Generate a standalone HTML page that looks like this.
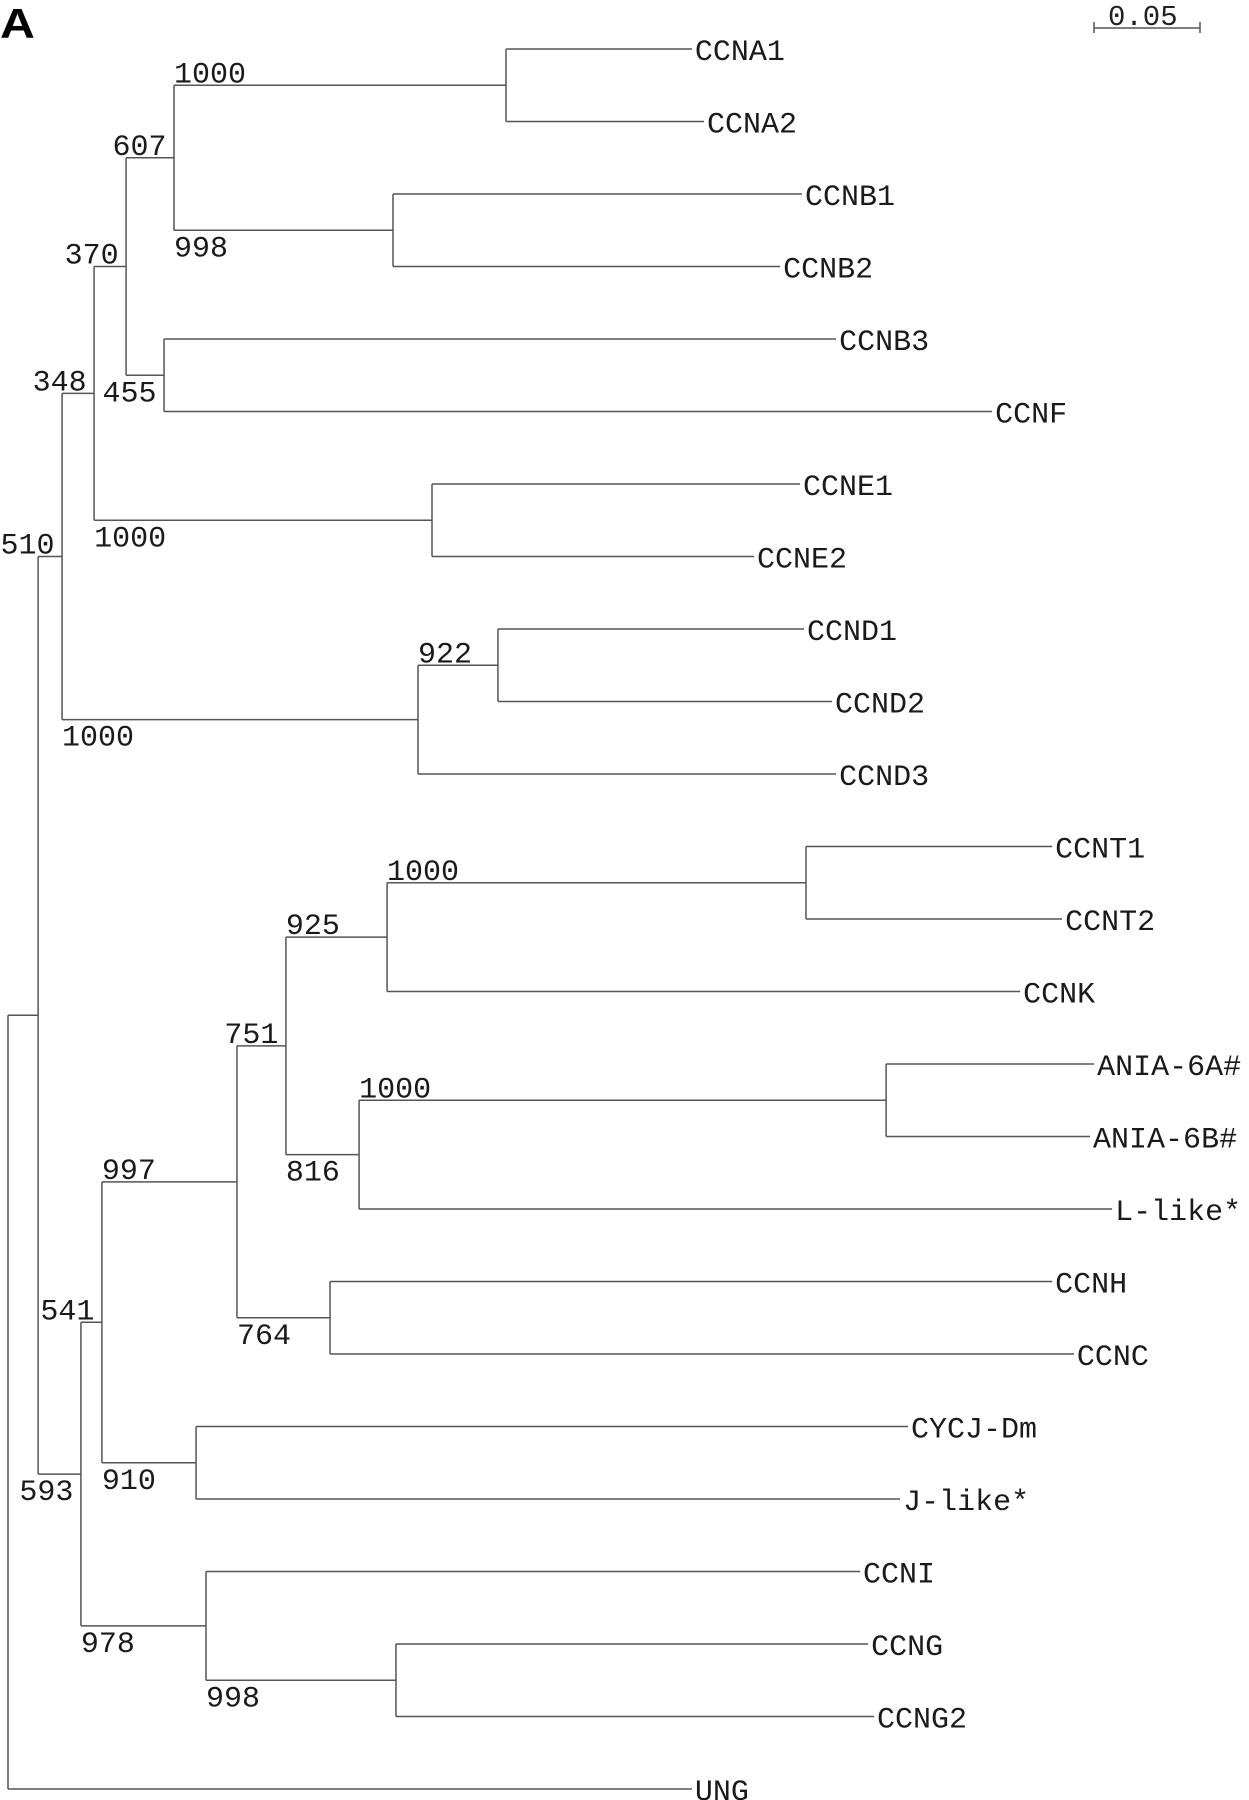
<!DOCTYPE html>
<html><head><meta charset="utf-8"><style>
html,body{margin:0;padding:0;background:#fff;}
svg{display:block;}
</style></head><body>
<svg id="chart" width="1249" height="1800" viewBox="0 0 1249 1800" xmlns="http://www.w3.org/2000/svg">
<text x="0" y="38" font-family="Liberation Sans, sans-serif" font-weight="bold" font-size="42" fill="#000" transform="scale(1.15,1) ">A</text>
<g>
<line x1="1094" y1="28" x2="1200" y2="28" stroke="#555" stroke-width="1.5"/>
<line x1="1094" y1="22" x2="1094" y2="33" stroke="#555" stroke-width="1.5"/>
<line x1="1200" y1="22" x2="1200" y2="33" stroke="#555" stroke-width="1.5"/>
<text x="1108" y="25" font-family="Liberation Mono, monospace" font-size="29" fill="#222">0.05</text>
</g>
<g id="branches"></g>
<g id="labels"></g>
</svg>
<script>
const leafNames = ["CCNA1","CCNA2","CCNB1","CCNB2","CCNB3","CCNF","CCNE1","CCNE2","CCND1","CCND2","CCND3","CCNT1","CCNT2","CCNK","ANIA-6A#","ANIA-6B#","L-like*","CCNH","CCNC","CYCJ-Dm","J-like*","CCNI","CCNG","CCNG2","UNG"];
const leafDist = [0.3226,0.3283,0.3745,0.3642,0.3906,0.4642,0.3736,0.3519,0.3755,0.3887,0.3906,0.4925,0.4972,0.4774,0.5123,0.5104,0.5208,0.4925,0.5028,0.4245,0.4208,0.4019,0.4057,0.4085,0.3226];
const nodeDist = [0.2349,0.1816,0.0783,0.0736,0.0557,0.2,0.0406,0.2311,0.1934,0.0255,0.3764,0.1788,0.4142,0.1656,0.1311,0.1519,0.108,0.0887,0.0443,0.183,0.0934,0.0344,0.0142,0];
const nodeChildren = [[0,1],[2,3],[25,26],[4,5],[27,28],[6,7],[29,30],[8,9],[32,10],[31,33],[11,12],[35,13],[14,15],[37,16],[36,38],[17,18],[39,40],[19,20],[41,42],[22,23],[21,44],[43,45],[34,46],[47,24]];
const nodeBoot = ["1000","998","607","455","370","1000","348","922","1000","510","1000","925","1000","816","751","764","997","910","541","998","978","593","",""];
const nodeBootPos = ["a","b","a","b","a","b","a","a","b","a","a","a","a","b","a","b","a","b","a","b","b","b","",""];

const NS = "http://www.w3.org/2000/svg";
const xScale = d => 8 + d * 2120;
const yLeaf = i => 49 + i * 72.5;
const nLeaf = leafNames.length;
const X = [], Y = [], parent = [];
for (let i = 0; i < nLeaf; i++) { X[i] = xScale(leafDist[i]); Y[i] = yLeaf(i); }
for (let j = 0; j < nodeDist.length; j++) {
  const id = nLeaf + j; const ch = nodeChildren[j];
  X[id] = xScale(nodeDist[j]);
  Y[id] = (Y[ch[0]] + Y[ch[ch.length - 1]]) / 2;
  ch.forEach(c => parent[c] = id);
}
const gB = document.getElementById('branches');
const gL = document.getElementById('labels');
function line(x1, y1, x2, y2, name) {
  const l = document.createElementNS(NS, 'line');
  l.setAttribute('x1', x1); l.setAttribute('y1', y1); l.setAttribute('x2', x2); l.setAttribute('y2', y2);
  l.setAttribute('stroke', '#555'); l.setAttribute('stroke-width', '1.5');
  
  
  gB.appendChild(l);
}
function text(x, y, s, size, name) {
  const t = document.createElementNS(NS, 'text');
  t.setAttribute('x', x); t.setAttribute('y', y);
  t.setAttribute('font-family', 'Liberation Mono, monospace');
  t.setAttribute('font-size', size); t.setAttribute('fill', '#1a1a1a');
  t.textContent = s;
  
  
  gL.appendChild(t);
}
for (let id = 0; id < X.length; id++) {
  if (parent[id] === undefined) continue;
  line(X[parent[id]], Y[id], X[id], Y[id], 'branch');
}
for (let j = 0; j < nodeDist.length; j++) {
  const id = nLeaf + j; const ch = nodeChildren[j];
  line(X[id], Y[ch[0]], X[id], Y[ch[ch.length - 1]], 'node-connector');
}
for (let i = 0; i < nLeaf; i++) {
  text(X[i] + 3, Y[i] + 11, leafNames[i], 30, 'leaf-label');
}
for (let j = 0; j < nodeDist.length; j++) {
  const s = nodeBoot[j]; if (!s) continue;
  const id = nLeaf + j; const px = X[parent[id]];
  const w = s.length * 18.5;
  const x = Math.min(px, X[id] - w - 6);
  const y = nodeBootPos[j] === 'a' ? Y[id] - 3 : Y[id] + 26;
  text(x, y, s, 30, 'bootstrap-value');
}
</script>
</body></html>
